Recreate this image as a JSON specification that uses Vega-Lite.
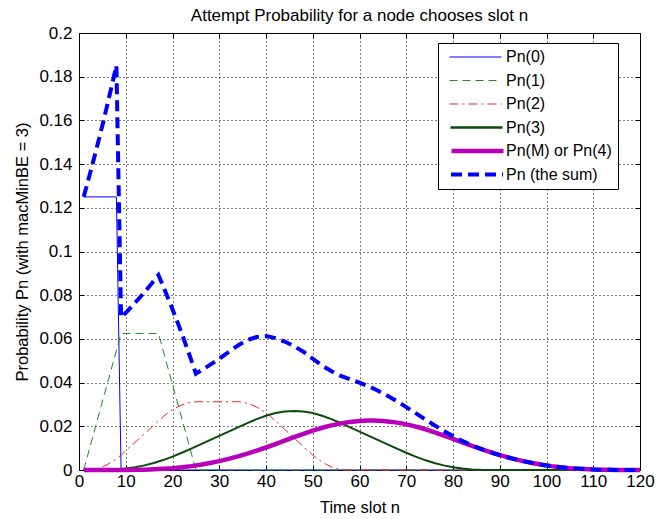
{
  "$schema": "https://vega.github.io/schema/vega-lite/v6.json",
  "width": 561,
  "height": 437,
  "autosize": {"type": "none"},
  "padding": {"left": 79, "top": 33, "right": 24, "bottom": 49},
  "background": "white",
  "config": {
    "font": "Liberation Sans",
    "view": {"stroke": "black", "strokeWidth": 1},
    "axis": {
      "domain": false,
      "tickColor": "black",
      "labelColor": "black",
      "titleColor": "black",
      "titleFontWeight": "normal",
      "labelFontSize": 17,
      "titleFontSize": 16.5,
      "gridColor": "black",
      "gridOpacity": 1,
      "gridDash": [1, 3],
      "gridWidth": 1
    },
    "legend": {
      "orient": "none",
      "legendX": 359,
      "symbolType": "stroke",
      "symbolSize": 2704,
      "clipHeight": 16,
      "labelFontSize": 16,
      "labelColor": "black",
      "labelOffset": 3,
      "symbolOffset": 5,
      "rowPadding": 7.5,
      "padding": 6,
      "cornerRadius": 0
    },
    "line": {"clip": true, "strokeCap": "butt", "strokeJoin": "miter"}
  },
  "title": {
    "text": "Attempt Probability for a node chooses slot n",
    "fontSize": 17,
    "fontWeight": "normal",
    "color": "black",
    "anchor": "middle",
    "offset": -1
  },
  "data": {
    "values": [
      {"s": "Pn(0)", "n": 1, "p": 0.125},
      {"s": "Pn(0)", "n": 8, "p": 0.125},
      {"s": "Pn(0)", "n": 9, "p": 0},
      {"s": "Pn(0)", "n": 120, "p": 0},

      {"s": "Pn(1)", "n": 1, "p": 0},
      {"s": "Pn(1)", "n": 9, "p": 0.0625},
      {"s": "Pn(1)", "n": 17, "p": 0.0625},
      {"s": "Pn(1)", "n": 25, "p": 0},
      {"s": "Pn(1)", "n": 120, "p": 0},

      {"s": "Pn(2)", "n": 1, "p": 0},
      {"s": "Pn(2)", "n": 2, "p": 0},
      {"s": "Pn(2)", "n": 3, "p": 0.000244},
      {"s": "Pn(2)", "n": 4, "p": 0.000732},
      {"s": "Pn(2)", "n": 5, "p": 0.001465},
      {"s": "Pn(2)", "n": 6, "p": 0.002441},
      {"s": "Pn(2)", "n": 7, "p": 0.003662},
      {"s": "Pn(2)", "n": 8, "p": 0.005127},
      {"s": "Pn(2)", "n": 9, "p": 0.006836},
      {"s": "Pn(2)", "n": 10, "p": 0.008789},
      {"s": "Pn(2)", "n": 11, "p": 0.010742},
      {"s": "Pn(2)", "n": 12, "p": 0.012695},
      {"s": "Pn(2)", "n": 13, "p": 0.014648},
      {"s": "Pn(2)", "n": 14, "p": 0.016602},
      {"s": "Pn(2)", "n": 15, "p": 0.018555},
      {"s": "Pn(2)", "n": 16, "p": 0.020508},
      {"s": "Pn(2)", "n": 17, "p": 0.022461},
      {"s": "Pn(2)", "n": 18, "p": 0.024414},
      {"s": "Pn(2)", "n": 19, "p": 0.026123},
      {"s": "Pn(2)", "n": 20, "p": 0.027588},
      {"s": "Pn(2)", "n": 21, "p": 0.028809},
      {"s": "Pn(2)", "n": 22, "p": 0.029785},
      {"s": "Pn(2)", "n": 23, "p": 0.030518},
      {"s": "Pn(2)", "n": 24, "p": 0.031006},
      {"s": "Pn(2)", "n": 25, "p": 0.03125},
      {"s": "Pn(2)", "n": 34, "p": 0.03125},
      {"s": "Pn(2)", "n": 35, "p": 0.031006},
      {"s": "Pn(2)", "n": 36, "p": 0.030518},
      {"s": "Pn(2)", "n": 37, "p": 0.029785},
      {"s": "Pn(2)", "n": 38, "p": 0.028809},
      {"s": "Pn(2)", "n": 39, "p": 0.027588},
      {"s": "Pn(2)", "n": 40, "p": 0.026123},
      {"s": "Pn(2)", "n": 41, "p": 0.024414},
      {"s": "Pn(2)", "n": 42, "p": 0.022461},
      {"s": "Pn(2)", "n": 43, "p": 0.020508},
      {"s": "Pn(2)", "n": 44, "p": 0.018555},
      {"s": "Pn(2)", "n": 45, "p": 0.016602},
      {"s": "Pn(2)", "n": 46, "p": 0.014648},
      {"s": "Pn(2)", "n": 47, "p": 0.012695},
      {"s": "Pn(2)", "n": 48, "p": 0.010742},
      {"s": "Pn(2)", "n": 49, "p": 0.008789},
      {"s": "Pn(2)", "n": 50, "p": 0.006836},
      {"s": "Pn(2)", "n": 51, "p": 0.005127},
      {"s": "Pn(2)", "n": 52, "p": 0.003662},
      {"s": "Pn(2)", "n": 53, "p": 0.002441},
      {"s": "Pn(2)", "n": 54, "p": 0.001465},
      {"s": "Pn(2)", "n": 55, "p": 0.000732},
      {"s": "Pn(2)", "n": 56, "p": 0.000244},
      {"s": "Pn(2)", "n": 57, "p": 0},
      {"s": "Pn(2)", "n": 120, "p": 0},

      {"s": "Pn(3)", "n": 1, "p": 0},
      {"s": "Pn(3)", "n": 3, "p": 0},
      {"s": "Pn(3)", "n": 4, "p": 0.0000076},
      {"s": "Pn(3)", "n": 6, "p": 0.0000763},
      {"s": "Pn(3)", "n": 8, "p": 0.000267},
      {"s": "Pn(3)", "n": 10, "p": 0.000641},
      {"s": "Pn(3)", "n": 12, "p": 0.001251},
      {"s": "Pn(3)", "n": 14, "p": 0.002106},
      {"s": "Pn(3)", "n": 16, "p": 0.003204},
      {"s": "Pn(3)", "n": 18, "p": 0.004547},
      {"s": "Pn(3)", "n": 20, "p": 0.006126},
      {"s": "Pn(3)", "n": 22, "p": 0.007889},
      {"s": "Pn(3)", "n": 24, "p": 0.009773},
      {"s": "Pn(3)", "n": 26, "p": 0.011719},
      {"s": "Pn(3)", "n": 28, "p": 0.013672},
      {"s": "Pn(3)", "n": 30, "p": 0.015625},
      {"s": "Pn(3)", "n": 32, "p": 0.017578},
      {"s": "Pn(3)", "n": 34, "p": 0.019531},
      {"s": "Pn(3)", "n": 36, "p": 0.021469},
      {"s": "Pn(3)", "n": 38, "p": 0.023285},
      {"s": "Pn(3)", "n": 40, "p": 0.024857},
      {"s": "Pn(3)", "n": 42, "p": 0.026062},
      {"s": "Pn(3)", "n": 44, "p": 0.026795},
      {"s": "Pn(3)", "n": 46, "p": 0.027039},
      {"s": "Pn(3)", "n": 48, "p": 0.026795},
      {"s": "Pn(3)", "n": 50, "p": 0.026062},
      {"s": "Pn(3)", "n": 52, "p": 0.024857},
      {"s": "Pn(3)", "n": 54, "p": 0.023285},
      {"s": "Pn(3)", "n": 56, "p": 0.021469},
      {"s": "Pn(3)", "n": 58, "p": 0.019531},
      {"s": "Pn(3)", "n": 60, "p": 0.017578},
      {"s": "Pn(3)", "n": 62, "p": 0.015625},
      {"s": "Pn(3)", "n": 64, "p": 0.013672},
      {"s": "Pn(3)", "n": 66, "p": 0.011719},
      {"s": "Pn(3)", "n": 68, "p": 0.009773},
      {"s": "Pn(3)", "n": 70, "p": 0.007889},
      {"s": "Pn(3)", "n": 72, "p": 0.006126},
      {"s": "Pn(3)", "n": 74, "p": 0.004547},
      {"s": "Pn(3)", "n": 76, "p": 0.003204},
      {"s": "Pn(3)", "n": 78, "p": 0.002106},
      {"s": "Pn(3)", "n": 80, "p": 0.001251},
      {"s": "Pn(3)", "n": 82, "p": 0.000641},
      {"s": "Pn(3)", "n": 84, "p": 0.000267},
      {"s": "Pn(3)", "n": 86, "p": 0.0000763},
      {"s": "Pn(3)", "n": 88, "p": 0.0000076},
      {"s": "Pn(3)", "n": 89, "p": 0},
      {"s": "Pn(3)", "n": 120, "p": 0},

      {"s": "Pn(M) or Pn(4)", "n": 1, "p": 0},
      {"s": "Pn(M) or Pn(4)", "n": 4, "p": 0},
      {"s": "Pn(M) or Pn(4)", "n": 6, "p": 0.0000012},
      {"s": "Pn(M) or Pn(4)", "n": 8, "p": 0.0000083},
      {"s": "Pn(M) or Pn(4)", "n": 10, "p": 0.00003},
      {"s": "Pn(M) or Pn(4)", "n": 12, "p": 0.0000787},
      {"s": "Pn(M) or Pn(4)", "n": 14, "p": 0.000169},
      {"s": "Pn(M) or Pn(4)", "n": 16, "p": 0.000317},
      {"s": "Pn(M) or Pn(4)", "n": 18, "p": 0.000537},
      {"s": "Pn(M) or Pn(4)", "n": 20, "p": 0.000845},
      {"s": "Pn(M) or Pn(4)", "n": 22, "p": 0.001255},
      {"s": "Pn(M) or Pn(4)", "n": 24, "p": 0.001777},
      {"s": "Pn(M) or Pn(4)", "n": 26, "p": 0.002418},
      {"s": "Pn(M) or Pn(4)", "n": 28, "p": 0.003181},
      {"s": "Pn(M) or Pn(4)", "n": 30, "p": 0.004066},
      {"s": "Pn(M) or Pn(4)", "n": 32, "p": 0.005074},
      {"s": "Pn(M) or Pn(4)", "n": 34, "p": 0.006203},
      {"s": "Pn(M) or Pn(4)", "n": 36, "p": 0.007454},
      {"s": "Pn(M) or Pn(4)", "n": 38, "p": 0.008824},
      {"s": "Pn(M) or Pn(4)", "n": 40, "p": 0.010298},
      {"s": "Pn(M) or Pn(4)", "n": 42, "p": 0.01185},
      {"s": "Pn(M) or Pn(4)", "n": 44, "p": 0.013443},
      {"s": "Pn(M) or Pn(4)", "n": 46, "p": 0.015033},
      {"s": "Pn(M) or Pn(4)", "n": 48, "p": 0.016573},
      {"s": "Pn(M) or Pn(4)", "n": 50, "p": 0.018018},
      {"s": "Pn(M) or Pn(4)", "n": 52, "p": 0.019322},
      {"s": "Pn(M) or Pn(4)", "n": 54, "p": 0.020442},
      {"s": "Pn(M) or Pn(4)", "n": 56, "p": 0.021348},
      {"s": "Pn(M) or Pn(4)", "n": 58, "p": 0.022018},
      {"s": "Pn(M) or Pn(4)", "n": 60, "p": 0.022446},
      {"s": "Pn(M) or Pn(4)", "n": 62, "p": 0.022629},
      {"s": "Pn(M) or Pn(4)", "n": 63, "p": 0.022629},
      {"s": "Pn(M) or Pn(4)", "n": 65, "p": 0.022446},
      {"s": "Pn(M) or Pn(4)", "n": 67, "p": 0.022018},
      {"s": "Pn(M) or Pn(4)", "n": 69, "p": 0.021348},
      {"s": "Pn(M) or Pn(4)", "n": 71, "p": 0.020442},
      {"s": "Pn(M) or Pn(4)", "n": 73, "p": 0.019322},
      {"s": "Pn(M) or Pn(4)", "n": 75, "p": 0.018018},
      {"s": "Pn(M) or Pn(4)", "n": 77, "p": 0.016573},
      {"s": "Pn(M) or Pn(4)", "n": 79, "p": 0.015033},
      {"s": "Pn(M) or Pn(4)", "n": 81, "p": 0.013443},
      {"s": "Pn(M) or Pn(4)", "n": 83, "p": 0.01185},
      {"s": "Pn(M) or Pn(4)", "n": 85, "p": 0.010298},
      {"s": "Pn(M) or Pn(4)", "n": 87, "p": 0.008824},
      {"s": "Pn(M) or Pn(4)", "n": 89, "p": 0.007454},
      {"s": "Pn(M) or Pn(4)", "n": 91, "p": 0.006203},
      {"s": "Pn(M) or Pn(4)", "n": 93, "p": 0.005074},
      {"s": "Pn(M) or Pn(4)", "n": 95, "p": 0.004066},
      {"s": "Pn(M) or Pn(4)", "n": 97, "p": 0.003181},
      {"s": "Pn(M) or Pn(4)", "n": 99, "p": 0.002418},
      {"s": "Pn(M) or Pn(4)", "n": 101, "p": 0.001777},
      {"s": "Pn(M) or Pn(4)", "n": 103, "p": 0.001255},
      {"s": "Pn(M) or Pn(4)", "n": 105, "p": 0.000845},
      {"s": "Pn(M) or Pn(4)", "n": 107, "p": 0.000537},
      {"s": "Pn(M) or Pn(4)", "n": 109, "p": 0.000317},
      {"s": "Pn(M) or Pn(4)", "n": 111, "p": 0.000169},
      {"s": "Pn(M) or Pn(4)", "n": 113, "p": 0.0000787},
      {"s": "Pn(M) or Pn(4)", "n": 115, "p": 0.00003},
      {"s": "Pn(M) or Pn(4)", "n": 117, "p": 0.0000083},
      {"s": "Pn(M) or Pn(4)", "n": 119, "p": 0.0000012},
      {"s": "Pn(M) or Pn(4)", "n": 120, "p": 0.0000002},

      {"s": "Pn (the sum)", "n": 1, "p": 0.125},
      {"s": "Pn (the sum)", "n": 2, "p": 0.1328},
      {"s": "Pn (the sum)", "n": 3, "p": 0.1409},
      {"s": "Pn (the sum)", "n": 4, "p": 0.1492},
      {"s": "Pn (the sum)", "n": 5, "p": 0.1577},
      {"s": "Pn (the sum)", "n": 6, "p": 0.1666},
      {"s": "Pn (the sum)", "n": 7, "p": 0.1757},
      {"s": "Pn (the sum)", "n": 8, "p": 0.1851},
      {"s": "Pn (the sum)", "n": 9, "p": 0.0698},
      {"s": "Pn (the sum)", "n": 10, "p": 0.07196},
      {"s": "Pn (the sum)", "n": 12, "p": 0.07652},
      {"s": "Pn (the sum)", "n": 14, "p": 0.08138},
      {"s": "Pn (the sum)", "n": 16, "p": 0.08653},
      {"s": "Pn (the sum)", "n": 17, "p": 0.08922},
      {"s": "Pn (the sum)", "n": 18, "p": 0.08419},
      {"s": "Pn (the sum)", "n": 20, "p": 0.07362},
      {"s": "Pn (the sum)", "n": 22, "p": 0.06237},
      {"s": "Pn (the sum)", "n": 24, "p": 0.05037},
      {"s": "Pn (the sum)", "n": 25, "p": 0.04408},
      {"s": "Pn (the sum)", "n": 26, "p": 0.04539},
      {"s": "Pn (the sum)", "n": 28, "p": 0.0481},
      {"s": "Pn (the sum)", "n": 30, "p": 0.05094},
      {"s": "Pn (the sum)", "n": 32, "p": 0.0539},
      {"s": "Pn (the sum)", "n": 34, "p": 0.05698},
      {"s": "Pn (the sum)", "n": 36, "p": 0.05944},
      {"s": "Pn (the sum)", "n": 38, "p": 0.06092},
      {"s": "Pn (the sum)", "n": 40, "p": 0.06128},
      {"s": "Pn (the sum)", "n": 42, "p": 0.06037},
      {"s": "Pn (the sum)", "n": 44, "p": 0.05879},
      {"s": "Pn (the sum)", "n": 46, "p": 0.05672},
      {"s": "Pn (the sum)", "n": 48, "p": 0.05411},
      {"s": "Pn (the sum)", "n": 50, "p": 0.05092},
      {"s": "Pn (the sum)", "n": 52, "p": 0.04784},
      {"s": "Pn (the sum)", "n": 54, "p": 0.04519},
      {"s": "Pn (the sum)", "n": 56, "p": 0.04306},
      {"s": "Pn (the sum)", "n": 58, "p": 0.04155},
      {"s": "Pn (the sum)", "n": 60, "p": 0.04002},
      {"s": "Pn (the sum)", "n": 62, "p": 0.03825},
      {"s": "Pn (the sum)", "n": 63, "p": 0.03728},
      {"s": "Pn (the sum)", "n": 65, "p": 0.03514},
      {"s": "Pn (the sum)", "n": 67, "p": 0.03276},
      {"s": "Pn (the sum)", "n": 69, "p": 0.03017},
      {"s": "Pn (the sum)", "n": 71, "p": 0.02743},
      {"s": "Pn (the sum)", "n": 73, "p": 0.02463},
      {"s": "Pn (the sum)", "n": 75, "p": 0.02186},
      {"s": "Pn (the sum)", "n": 77, "p": 0.0192},
      {"s": "Pn (the sum)", "n": 79, "p": 0.01668},
      {"s": "Pn (the sum)", "n": 81, "p": 0.01436},
      {"s": "Pn (the sum)", "n": 83, "p": 0.01228},
      {"s": "Pn (the sum)", "n": 85, "p": 0.01045},
      {"s": "Pn (the sum)", "n": 87, "p": 0.00885},
      {"s": "Pn (the sum)", "n": 89, "p": 0.00745},
      {"s": "Pn (the sum)", "n": 91, "p": 0.0062},
      {"s": "Pn (the sum)", "n": 93, "p": 0.00507},
      {"s": "Pn (the sum)", "n": 95, "p": 0.00407},
      {"s": "Pn (the sum)", "n": 97, "p": 0.00318},
      {"s": "Pn (the sum)", "n": 99, "p": 0.00242},
      {"s": "Pn (the sum)", "n": 101, "p": 0.00178},
      {"s": "Pn (the sum)", "n": 103, "p": 0.00126},
      {"s": "Pn (the sum)", "n": 105, "p": 0.00085},
      {"s": "Pn (the sum)", "n": 107, "p": 0.00054},
      {"s": "Pn (the sum)", "n": 109, "p": 0.00032},
      {"s": "Pn (the sum)", "n": 111, "p": 0.00017},
      {"s": "Pn (the sum)", "n": 113, "p": 0.00008},
      {"s": "Pn (the sum)", "n": 115, "p": 0.00003},
      {"s": "Pn (the sum)", "n": 117, "p": 0.00001},
      {"s": "Pn (the sum)", "n": 119, "p": 0},
      {"s": "Pn (the sum)", "n": 120, "p": 0}
    ]
  },
  "layer": [
    {
      "mark": {"type": "point", "opacity": 0},
      "encoding": {
        "x": {
          "field": "n", "type": "quantitative",
          "scale": {"domain": [0, 120], "nice": false, "zero": false},
          "axis": {
            "orient": "top", "title": null, "labels": false, "grid": false,
            "values": [0, 10, 20, 30, 40, 50, 60, 70, 80, 90, 100, 110, 120],
            "tickSize": -5
          }
        },
        "y": {
          "field": "p", "type": "quantitative",
          "scale": {"domain": [0, 0.2], "nice": false},
          "axis": {
            "orient": "right", "title": null, "labels": false, "grid": false,
            "values": [0, 0.02, 0.04, 0.06, 0.08, 0.1, 0.12, 0.14, 0.16, 0.18, 0.2],
            "tickSize": -5
          }
        },
        "color": {
          "field": "s", "type": "nominal",
          "scale": {
            "domain": ["Pn(0)", "Pn(1)", "Pn(2)", "Pn(3)", "Pn(M) or Pn(4)", "Pn (the sum)"],
            "range": ["#0000ff", "#1a8f1a", "#ff2020", "#0a4a0a", "#b800b8", "#0000ff"]
          },
          "legend": {
            "title": null,
            "legendY": 10,
            "symbolOpacity": 0,
            "strokeColor": "black",
            "fillColor": "white"
          }
        }
      }
    },
    {
      "transform": [{"filter": "datum.s === 'Pn(0)'"}],
      "mark": {"type": "line", "strokeWidth": 1},
      "encoding": {
        "x": {
          "field": "n", "type": "quantitative",
          "scale": {"domain": [0, 120], "nice": false, "zero": false},
          "axis": {
            "orient": "bottom", "title": "Time slot n",
            "values": [0, 10, 20, 30, 40, 50, 60, 70, 80, 90, 100, 110, 120],
            "grid": true, "tickSize": -5, "labelPadding": 8, "titlePadding": 10,
            "labelFlush": false, "labelOverlap": false
          }
        },
        "y": {
          "field": "p", "type": "quantitative",
          "scale": {"domain": [0, 0.2], "nice": false},
          "axis": {
            "orient": "left", "title": "Probability Pn (with macMinBE = 3)",
            "values": [0, 0.02, 0.04, 0.06, 0.08, 0.1, 0.12, 0.14, 0.16, 0.18, 0.2],
            "format": "~g",
            "grid": true, "tickSize": -5, "labelPadding": 12, "titlePadding": 8,
            "labelFlush": false, "labelOverlap": false
          }
        },
        "color": {
          "field": "s", "type": "nominal",
          "scale": {"domain": ["Pn(0)"], "range": ["#0000ff"]},
          "legend": {"title": null, "legendY": 10, "labelExpr": "''", "symbolStrokeWidth": 1}
        }
      }
    },
    {
      "transform": [{"filter": "datum.s === 'Pn(1)'"}],
      "mark": {"type": "line", "strokeWidth": 1, "strokeDash": [8, 5]},
      "encoding": {
        "x": {"field": "n", "type": "quantitative", "scale": {"domain": [0, 120], "nice": false, "zero": false}, "axis": null},
        "y": {"field": "p", "type": "quantitative", "scale": {"domain": [0, 0.2], "nice": false}, "axis": null},
        "color": {
          "field": "s", "type": "nominal",
          "scale": {"domain": ["Pn(1)"], "range": ["#1a8f1a"]},
          "legend": {"title": null, "legendY": 33.5, "labelExpr": "''", "symbolStrokeWidth": 1, "symbolDash": [8, 5]}
        }
      }
    },
    {
      "transform": [{"filter": "datum.s === 'Pn(2)'"}],
      "mark": {"type": "line", "strokeWidth": 1, "strokeDash": [9, 4, 2, 4]},
      "encoding": {
        "x": {"field": "n", "type": "quantitative", "scale": {"domain": [0, 120], "nice": false, "zero": false}, "axis": null},
        "y": {"field": "p", "type": "quantitative", "scale": {"domain": [0, 0.2], "nice": false}, "axis": null},
        "color": {
          "field": "s", "type": "nominal",
          "scale": {"domain": ["Pn(2)"], "range": ["#ff2020"]},
          "legend": {"title": null, "legendY": 57, "labelExpr": "''", "symbolStrokeWidth": 1, "symbolDash": [9, 4, 2, 4]}
        }
      }
    },
    {
      "transform": [{"filter": "datum.s === 'Pn(3)'"}],
      "mark": {"type": "line", "strokeWidth": 2},
      "encoding": {
        "x": {"field": "n", "type": "quantitative", "scale": {"domain": [0, 120], "nice": false, "zero": false}, "axis": null},
        "y": {"field": "p", "type": "quantitative", "scale": {"domain": [0, 0.2], "nice": false}, "axis": null},
        "color": {
          "field": "s", "type": "nominal",
          "scale": {"domain": ["Pn(3)"], "range": ["#0a4a0a"]},
          "legend": {"title": null, "legendY": 80.5, "labelExpr": "''", "symbolStrokeWidth": 2.5}
        }
      }
    },
    {
      "transform": [{"filter": "datum.s === 'Pn(M) or Pn(4)'"}],
      "mark": {"type": "line", "strokeWidth": 4.5},
      "encoding": {
        "x": {"field": "n", "type": "quantitative", "scale": {"domain": [0, 120], "nice": false, "zero": false}, "axis": null},
        "y": {"field": "p", "type": "quantitative", "scale": {"domain": [0, 0.2], "nice": false}, "axis": null},
        "color": {
          "field": "s", "type": "nominal",
          "scale": {"domain": ["Pn(M) or Pn(4)"], "range": ["#b800b8"]},
          "legend": {"title": null, "legendY": 104, "labelExpr": "''", "symbolStrokeWidth": 4.5}
        }
      }
    },
    {
      "transform": [{"filter": "datum.s === 'Pn (the sum)'"}],
      "mark": {"type": "line", "strokeWidth": 4, "strokeDash": [11, 6]},
      "encoding": {
        "x": {"field": "n", "type": "quantitative", "scale": {"domain": [0, 120], "nice": false, "zero": false}, "axis": null},
        "y": {"field": "p", "type": "quantitative", "scale": {"domain": [0, 0.2], "nice": false}, "axis": null},
        "color": {
          "field": "s", "type": "nominal",
          "scale": {"domain": ["Pn (the sum)"], "range": ["#0000ff"]},
          "legend": {"title": null, "legendY": 127.5, "labelExpr": "''", "symbolStrokeWidth": 4, "symbolDash": [11, 6]}
        }
      }
    }
  ],
  "resolve": {
    "axis": {"x": "independent", "y": "independent"},
    "scale": {"color": "independent"},
    "legend": {"color": "independent"}
  }
}
